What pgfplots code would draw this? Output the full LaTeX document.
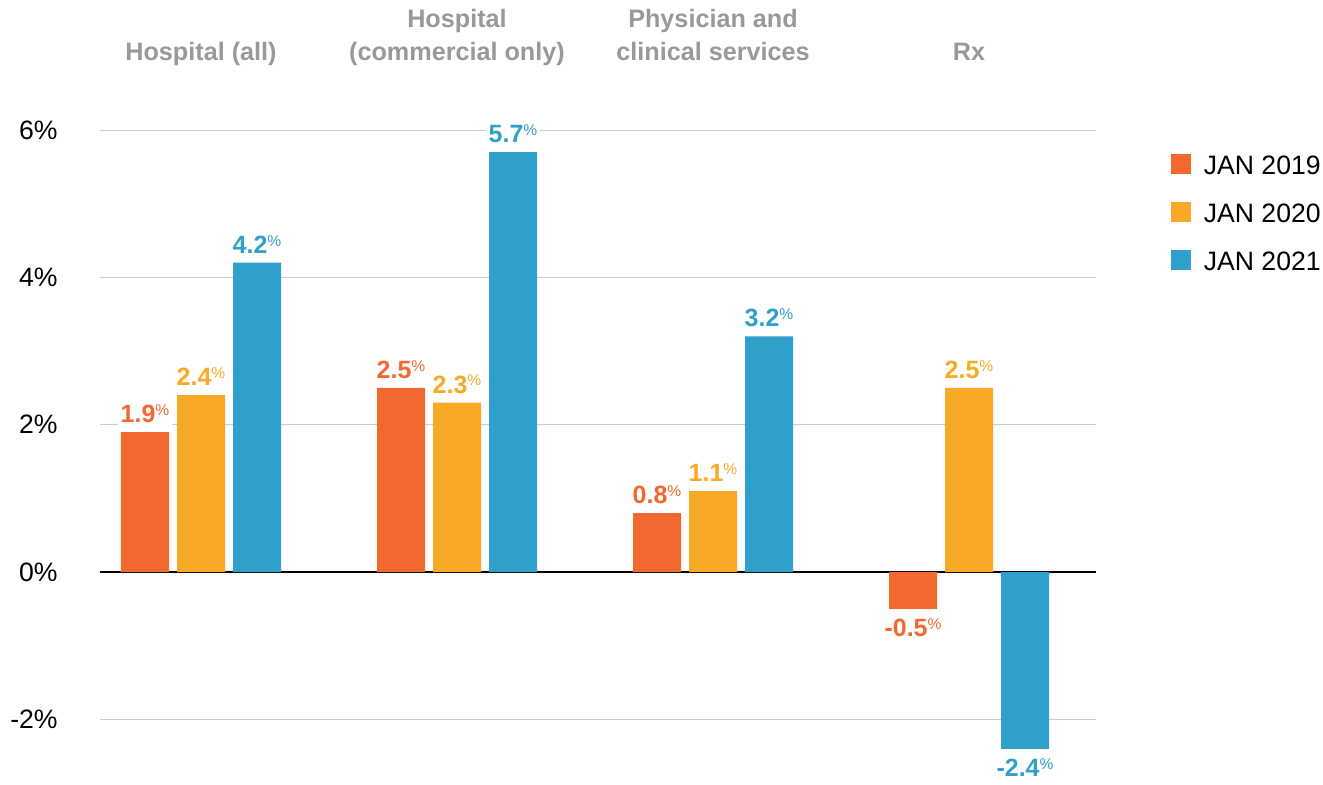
\documentclass[border=0pt]{standalone}
\usepackage{pgfplots}
\pgfplotsset{compat=1.18}
\usepackage{fontspec}
\setmainfont{Liberation Sans}
\definecolor{corange}{RGB}{242,104,46}
\definecolor{cyellow}{RGB}{249,169,38}
\definecolor{cblue}{RGB}{46,160,203}
\definecolor{ctitle}{RGB}{153,153,153}
\definecolor{cgrid}{RGB}{204,204,204}
\newcommand{\pct}{\raisebox{3.6pt}{\fontsize{7.8}{8}\selectfont\mdseries\%}}
\pgfplotsset{sqlegend/.style={legend image code/.code={\fill[##1,draw=none] (0pt,0.3pt) rectangle (10pt,10pt);}}}
\begin{document}
\begin{tikzpicture}
\path[use as bounding box] (0,0) rectangle (661.5pt,392pt);
\begin{axis}[
  at={(100.5pt,106pt)}, anchor=origin,
  x=128pt, y=36.833pt,
  xmin=-0.3945, xmax=3.496, ymin=-2.9, ymax=6.2,
  ybar=4pt, bar width=24pt,
  axis line style={draw=none}, tick style={draw=none},
  xtick=\empty,
  ytick={-2,0,2,4,6},
  yticklabel={\pgfmathprintnumber{\tick}\%},
  ymajorgrids, grid style={cgrid, line width=0.5pt},
  extra y ticks={0}, extra y tick labels={},
  extra y tick style={grid style={black, line width=1pt}},
  tick label style={font=\fontsize{13.3}{15}\selectfont},
  yticklabel style={inner sep=0pt, xshift=-21pt},
  /pgf/number format/assume math mode=true,
  clip=false,
  nodes near coords={\pgfmathprintnumber[fixed,fixed zerofill,precision=1]{\pgfplotspointmeta}\pct},
  every node near coord/.append style={font=\bfseries\fontsize{12.5}{14}\selectfont, fill=white, inner xsep=1.5pt, inner ysep=2pt, text height=11.5pt, text depth=2.5pt},
  legend style={at={(1.0752,0.9418)}, anchor=north west, draw=none, fill=none, inner sep=0pt, outer sep=0pt, row sep=14pt,
    font=\fontsize{13.3}{15}\selectfont,
    nodes={inner sep=0pt, text height=10pt, text depth=0pt, anchor=base west},
    /tikz/every odd column/.style={column sep=6.5pt}},
]
\addplot[sqlegend, fill=corange, draw=none, every node near coord/.append style={text=corange}]
  coordinates {(0,1.9) (1,2.5) (2,0.8) (3,-0.5)};
\addplot[sqlegend, fill=cyellow, draw=none, every node near coord/.append style={text=cyellow}]
  coordinates {(0,2.4) (1,2.3) (2,1.1) (3,2.5)};
\addplot[sqlegend, fill=cblue, draw=none, every node near coord/.append style={text=cblue}]
  coordinates {(0,4.2) (1,5.7) (2,3.2) (3,-2.4)};
\legend{JAN 2019, JAN 2020, JAN 2021}
\begin{scope}[every node/.style={anchor=base, text=ctitle, font=\bfseries\fontsize{12.6}{14}\selectfont, inner sep=0pt}]
\node at (axis cs:0,6.95) {Hospital (all)};
\node at (axis cs:1,7.385) {Hospital};
\node at (axis cs:1,6.95) {(commercial only)};
\node at (axis cs:2,7.385) {Physician and};
\node at (axis cs:2,6.95) {clinical services};
\node at (axis cs:3,6.95) {Rx};
\end{scope}
\end{axis}
\end{tikzpicture}
\end{document}
